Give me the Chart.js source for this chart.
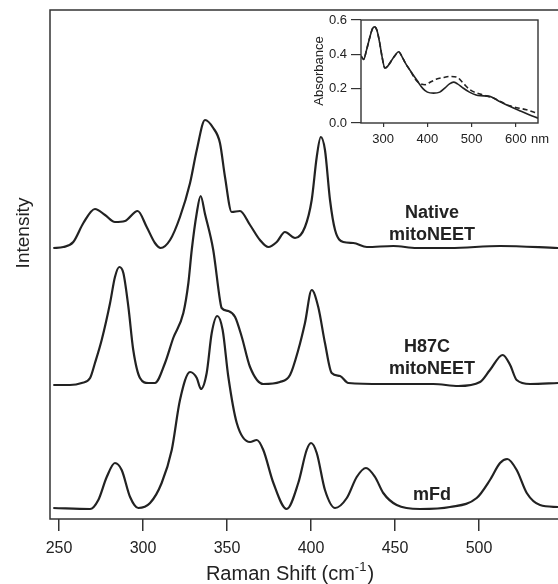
<!DOCTYPE html>
<html>
<head>
<meta charset="utf-8">
<script src="https://cdn.jsdelivr.net/npm/chart.js@4.4.0/dist/chart.umd.min.js"></script>
<style>
  html, body { margin: 0; padding: 0; background: #fff; overflow: hidden; }
  #wrap { position: relative; width: 558px; height: 584px; }
  #mainChart { position: absolute; left: 0; top: 0; }
  #insetChart { position: absolute; left: 300px; top: 0; }
</style>
</head>
<body>
<div id="wrap">
  <canvas id="mainChart" width="558" height="584"></canvas>
  <canvas id="insetChart" width="258" height="150"></canvas>
</div>
<script>
// Raman spectra (x = Raman shift in cm-1, y = intensity, arbitrary offset units)
const NATIVE_X = [246.6, 252.6, 258.5, 264.5, 271.4, 277.4, 283.3, 289.3, 296.8, 302.2,
  307.1, 310.5, 316.1, 322, 328, 332, 336.9, 341.8, 345.8, 348.8,
  352.8, 357.7, 363.7, 369.6, 374.6, 379.6, 384.5, 390.5, 396.4, 400.4,
  403.4, 405.8, 408.3, 411.3, 414.3, 419.2, 425.2, 433.2, 449, 462.9,
  482.7, 512.5, 547];
const NATIVE_Y = [271, 272, 277, 296, 310, 304, 297, 298, 308, 292,
  276, 271, 279, 302, 336, 369, 399, 391, 376, 342,
  307, 308, 294, 279, 272, 277, 287, 281, 292, 319,
  362, 382, 369, 319, 289, 277, 276, 272, 273, 271,
  271, 273, 271];

const H87C_X = [246.6, 256.5, 263.5, 268.5, 271.4, 275.4, 280.4, 283.3, 285.9, 288.3,
  291.3, 294.2, 298.2, 303.2, 307.1, 313.1, 318, 324, 327, 329,
  331.9, 334.3, 336.9, 341.8, 345.8, 346.8, 350.8, 354.8, 358.8, 363.7,
  371.6, 381.5, 387.5, 392.4, 396.4, 400.4, 404.3, 408.3, 412.3, 417.3,
  422.2, 443, 472.8, 487.7, 500.6, 506.5, 514.1, 518.5, 522.4, 530.4, 547];
const H87C_Y = [134, 134, 136, 141, 156, 179, 216, 242, 252, 246,
  212, 169, 141, 136, 136, 156, 181, 206, 236, 269,
  305, 323, 305, 269, 219, 211, 208, 202, 182, 152,
  135, 137, 144, 169, 196, 229, 212, 176, 146, 143,
  136, 135, 135, 133, 137, 149, 164, 154, 139, 135, 136];

const MFD_X = [246.6, 268.5, 273.4, 278.4, 283.3, 287.3, 292.3, 297.2, 304.2, 311.1,
  317.1, 322, 328, 332, 334.5, 337.9, 340.9, 344.2, 347.4, 350.8,
  355.8, 363.7, 367.7, 371.6, 377.6, 385.5, 392.4, 397.4, 400, 403.4,
  408.3, 414.3, 421.3, 427.2, 432.7, 438.1, 443, 451, 464.9, 482.7,
  498.6, 506.5, 512.5, 516.8, 522.4, 528.4, 536.3, 547];
const MFD_Y = [11, 10, 19, 42, 56, 49, 22, 11, 16, 36,
  69, 119, 147, 141, 130, 146, 186, 203, 189, 142,
  96, 77, 79, 69, 36, 10, 36, 69, 76, 66,
  29, 11, 21, 42, 51, 42, 26, 14, 10, 12,
  21, 39, 56, 60, 49, 26, 14, 12];

const X_TICKS = [250, 300, 350, 400, 450, 500];

// Inset: absorbance spectra (nm)
const ABS_SOLID_X = [250, 256, 262, 270, 276, 281, 286, 292, 298, 304, 310, 318, 326, 335, 342,
  350, 360, 376, 390, 400, 414, 428, 440, 450, 459, 468, 480, 495, 510, 520,
  541, 560, 586, 610, 630, 650];
const ABS_SOLID_Y = [0.39, 0.37, 0.42, 0.50, 0.55, 0.56, 0.54, 0.47, 0.38, 0.32, 0.33, 0.36, 0.39, 0.415, 0.39,
  0.35, 0.31, 0.25, 0.20, 0.18, 0.174, 0.18, 0.205, 0.228, 0.238, 0.228, 0.205, 0.18, 0.163, 0.159,
  0.155, 0.13, 0.097, 0.07, 0.048, 0.028];
const ABS_DASH_X = [250, 256, 262, 270, 276, 281, 286, 292, 298, 304, 310, 318, 326, 335, 342,
  350, 360, 376, 395, 408, 421, 436, 451, 466, 480, 496, 519, 549, 586, 624, 650];
const ABS_DASH_Y = [0.39, 0.37, 0.42, 0.50, 0.55, 0.56, 0.54, 0.47, 0.38, 0.32, 0.33, 0.36, 0.39, 0.415, 0.39,
  0.35, 0.31, 0.245, 0.223, 0.24, 0.256, 0.265, 0.271, 0.268, 0.235, 0.194, 0.169, 0.145, 0.10, 0.077, 0.055];
const INSET_X_TICKS = [300, 400, 500, 600];
const INSET_Y_TICKS = [0, 0.2, 0.4, 0.6];
const INSET_Y_LABELS = ['0.0', '0.2', '0.4', '0.6'];

const FONT = "'Liberation Sans', Arial, sans-serif";
const INK = '#222';

function pts(xs, ys) {
  return xs.map((x, i) => ({ x: x, y: ys[i] }));
}

function spectrum(xs, ys, extra) {
  return Object.assign({
    data: pts(xs, ys),
    borderColor: INK,
    borderWidth: 2.2,
    pointRadius: 0,
    fill: false,
    cubicInterpolationMode: 'monotone'
  }, extra || {});
}

// frame + free texts of the main plot
const mainDecor = {
  id: 'mainDecor',
  afterDraw(chart) {
    const c = chart.ctx, a = chart.chartArea;
    c.save();
    c.strokeStyle = '#333';
    c.lineWidth = 1.5;
    c.beginPath();
    c.moveTo(a.right, a.top); c.lineTo(a.left, a.top);
    c.lineTo(a.left, a.bottom); c.lineTo(a.right, a.bottom);
    c.stroke();

    c.fillStyle = INK;
    c.textAlign = 'center';
    c.textBaseline = 'middle';
    c.font = 'bold 18px ' + FONT;
    c.fillText('Native', 432, 213);
    c.fillText('mitoNEET', 432, 235);
    c.fillText('H87C', 427, 347);
    c.fillText('mitoNEET', 432, 369);
    c.fillText('mFd', 432, 495);

    // y title
    c.font = '19px ' + FONT;
    c.translate(24, 233);
    c.rotate(-Math.PI / 2);
    c.fillText('Intensity', 0, 0);
    c.restore();

    // x title with superscript
    c.save();
    c.fillStyle = INK;
    c.textBaseline = 'alphabetic';
    c.textAlign = 'left';
    c.font = '20px ' + FONT;
    const t1 = 'Raman Shift (cm', sup = '-1', t2 = ')';
    const w1 = c.measureText(t1).width;
    c.font = '13px ' + FONT;
    const ws = c.measureText(sup).width;
    c.font = '20px ' + FONT;
    const w2 = c.measureText(t2).width;
    let x = 290 - (w1 + ws + w2 + 1) / 2;
    const y = 580;
    c.fillText(t1, x, y);
    x += w1;
    c.font = '13px ' + FONT;
    c.fillText(sup, x, y - 9);
    x += ws + 1;
    c.font = '20px ' + FONT;
    c.fillText(t2, x, y);
    c.restore();
  }
};

new Chart(document.getElementById('mainChart'), {
  type: 'line',
  data: {
    datasets: [
      spectrum(NATIVE_X, NATIVE_Y, { label: 'Native mitoNEET' }),
      spectrum(H87C_X, H87C_Y, { label: 'H87C mitoNEET' }),
      spectrum(MFD_X, MFD_Y, { label: 'mFd' })
    ]
  },
  options: {
    responsive: false,
    animation: false,
    layout: { padding: { left: 50, top: 10, right: 0, bottom: 0 } },
    plugins: { legend: { display: false }, tooltip: { enabled: false } },
    scales: {
      x: {
        type: 'linear',
        min: 244.64,
        max: 547,
        afterFit(scale) { scale.height = 65; },
        afterBuildTicks(scale) { scale.ticks = X_TICKS.map(v => ({ value: v })); },
        grid: { display: true, drawOnChartArea: false, drawTicks: true, tickLength: 12, color: '#333', lineWidth: 1.5 },
        border: { display: false },
        ticks: { color: INK, font: { family: FONT, size: 16 }, padding: 8, maxRotation: 0 }
      },
      y: { display: false, min: 0, max: 509 }
    }
  },
  plugins: [mainDecor]
});

// inset frame + labels
const insetDecor = {
  id: 'insetDecor',
  beforeDraw(chart) {
    const c = chart.ctx, a = chart.chartArea;
    c.save();
    c.fillStyle = '#fff';
    c.fillRect(a.left, a.top, a.right - a.left, a.bottom - a.top);
    c.restore();
  },
  afterDraw(chart) {
    const c = chart.ctx, a = chart.chartArea;
    c.save();
    c.strokeStyle = '#333';
    c.lineWidth = 1.4;
    c.strokeRect(a.left, a.top, a.right - a.left, a.bottom - a.top);
    c.fillStyle = INK;
    c.font = '13px ' + FONT;
    c.textBaseline = 'middle';
    c.textAlign = 'center';
    c.fillText('nm', 240, 139);
    c.translate(19, 71);
    c.rotate(-Math.PI / 2);
    c.fillText('Absorbance', 0, 0);
    c.restore();
  }
};

new Chart(document.getElementById('insetChart'), {
  type: 'line',
  data: {
    datasets: [
      spectrum(ABS_SOLID_X, ABS_SOLID_Y, { label: 'solid', borderWidth: 1.6 }),
      spectrum(ABS_DASH_X, ABS_DASH_Y, { label: 'dashed', borderWidth: 1.6, borderDash: [5, 3] })
    ]
  },
  options: {
    responsive: false,
    animation: false,
    layout: { padding: { left: 0, top: 20, right: 20, bottom: 0 } },
    plugins: { legend: { display: false }, tooltip: { enabled: false } },
    scales: {
      x: {
        type: 'linear',
        min: 250,
        max: 650,
        afterFit(scale) { scale.height = 27; },
        afterBuildTicks(scale) { scale.ticks = INSET_X_TICKS.map(v => ({ value: v })); },
        grid: { display: true, drawOnChartArea: false, drawTicks: true, tickLength: 4, color: '#333', lineWidth: 1.2 },
        border: { display: false },
        ticks: { color: INK, font: { family: FONT, size: 13 }, padding: 5, maxRotation: 0 }
      },
      y: {
        min: 0,
        max: 0.6,
        afterFit(scale) { scale.width = 61; },
        afterBuildTicks(scale) { scale.ticks = INSET_Y_TICKS.map(v => ({ value: v })); },
        grid: { display: true, drawOnChartArea: false, drawTicks: true, tickLength: 10, color: '#333', lineWidth: 1.2 },
        border: { display: false },
        ticks: {
          color: INK, font: { family: FONT, size: 13 }, padding: 4,
          callback: (v, i) => INSET_Y_LABELS[i]
        }
      }
    }
  },
  plugins: [insetDecor]
});
</script>
</body>
</html>
